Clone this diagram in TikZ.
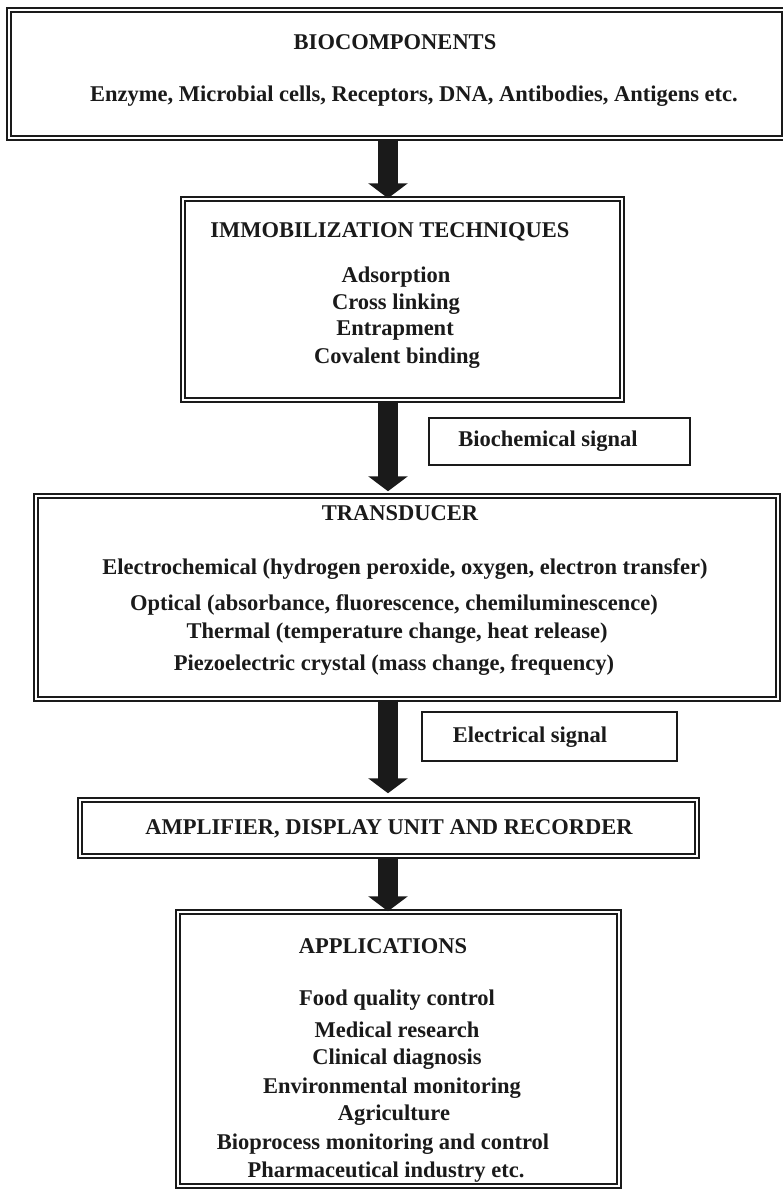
\documentclass[tikz,border=0pt]{standalone}
\usepackage{fontspec}
\setmainfont{Liberation Serif}
\usetikzlibrary{arrows.meta}
\definecolor{ink}{HTML}{1A1A1A}
\tikzset{
  dbox/.style={draw=ink, line width=1.5pt, double=white, double distance=2.5pt,
               inner sep=0pt, minimum width=#1},
  sbox/.style={draw=ink, line width=1.3pt, inner sep=0pt},
  lbl/.style={inner sep=0pt, text=ink, font=\fontsize{22.5}{26}\selectfont\bfseries},
  bigarrow/.style={draw=ink, line width=20pt,
                   -{Triangle[length=15pt, width=39pt]}},
}
\begin{document}
\begin{tikzpicture}[x=1pt, y=-1pt]
\useasboundingbox (0,0) rectangle (782,1189);

% boxes
\node[dbox=775pt, minimum height=128pt] (bio)   at (396.5,74) {};
\node[dbox=439pt, minimum height=201pt] (imm)   at (402.5,299.5) {};
\node[dbox=742pt, minimum height=203pt] (trans) at (407,597.5) {};
\node[dbox=617pt, minimum height=56pt]  (amp)   at (388.5,828) {};
\node[dbox=441pt, minimum height=274pt] (app)   at (398.5,1049) {};

\node[sbox, minimum width=261pt, minimum height=47pt] (bsig) at (559.5,441.5) {};
\node[sbox, minimum width=255pt, minimum height=49pt] (esig) at (549.5,736.5) {};

% arrows along the central axis
\coordinate (axis) at (388,0);
\draw[bigarrow] (bio.south -| axis) -- (imm.north -| axis);
\draw[bigarrow, shorten >=4pt] (imm.south -| axis) -- (trans.north -| axis);
\draw[bigarrow, shorten >=6pt] (trans.south -| axis) -- (amp.north -| axis);
\draw[bigarrow] (amp.south -| axis) -- (app.north -| axis);

% texts
\node[lbl] (t1) at (395,42) {BIOCOMPONENTS};
\node[lbl] (t2) at (414,96) {Enzyme, Microbial cells, Receptors, DNA, Antibodies, Antigens etc.};

\node[lbl] (t3) at (390,232) {IMMOBILIZATION TECHNIQUES};
\node[lbl] (t4) at (396,277) {Adsorption};
\node[lbl] (t5) at (396,304) {Cross linking};
\node[lbl] (t6) at (395,331) {Entrapment};
\node[lbl] (t7) at (397,358) {Covalent binding};

\node[lbl] (t8) at (548,441) {Biochemical signal};

\node[lbl] (t9)  at (400,513) {TRANSDUCER};
\node[lbl] (t10) at (405,569) {Electrochemical (hydrogen peroxide, oxygen, electron transfer)};
\node[lbl] (t11) at (394,605) {Optical (absorbance, fluorescence, chemiluminescence)};
\node[lbl] (t12) at (397,633) {Thermal (temperature change, heat release)};
\node[lbl] (t13) at (394,665) {Piezoelectric crystal (mass change, frequency)};

\node[lbl] (t14) at (530,737) {Electrical signal};

\node[lbl] (t15) at (389,829) {AMPLIFIER, DISPLAY UNIT AND RECORDER};

\node[lbl] (t16) at (383,946)  {APPLICATIONS};
\node[lbl] (t17) at (397,1000) {Food quality control};
\node[lbl] (t18) at (397,1030) {Medical research};
\node[lbl] (t19) at (397,1059) {Clinical diagnosis};
\node[lbl] (t20) at (392,1088) {Environmental monitoring};
\node[lbl] (t21) at (394,1115) {Agriculture};
\node[lbl] (t22) at (383,1144) {Bioprocess monitoring and control};
\node[lbl] (t23) at (386,1172) {Pharmaceutical industry etc.};
\end{tikzpicture}
\end{document}
